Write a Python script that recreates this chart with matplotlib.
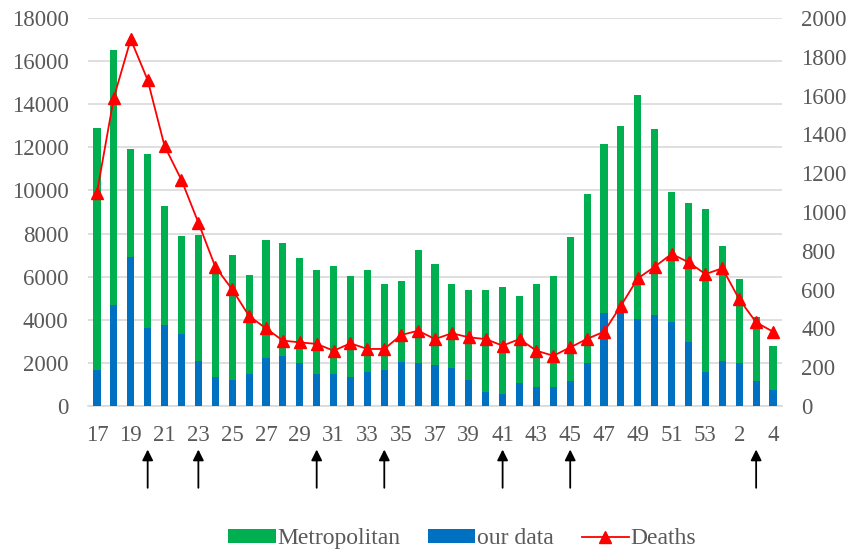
import matplotlib
matplotlib.use("Agg")
import matplotlib.pyplot as plt
import numpy as np

weeks = [17, 18, 19, 20, 21, 22, 23, 24, 25, 26, 27, 28, 29, 30, 31, 32, 33, 34, 35, 36,
         37, 38, 39, 40, 41, 42, 43, 44, 45, 46, 47, 48, 49, 50, 51, 52, 53, 1, 2, 3, 4]
metropolitan = [12900, 16500, 11900, 11700, 9300, 7900, 7950, 6300, 7000, 6100, 7700, 7550,
                6850, 6300, 6500, 6050, 6300, 5650, 5800, 7250, 6600, 5650, 5400, 5400, 5500,
                5100, 5650, 6050, 7850, 9850, 12150, 13000, 14450, 12850, 9950, 9400, 9150,
                7400, 5900, 4150, 2800]
our_data = [1670, 4700, 6900, 3600, 3750, 3350, 2100, 1350, 1200, 1500, 2250, 2300,
            2000, 1500, 1500, 1360, 1600, 1670, 2050, 2000, 1900, 1750, 1200, 650, 550,
            1050, 900, 900, 1150, 2000, 4300, 4400, 4050, 4200, 3900, 2950, 1600,
            2100, 2000, 1150, 750]
deaths = [1100, 1590, 1890, 1680, 1340, 1165, 945, 718, 601, 464, 400, 337,
          328, 320, 285, 323, 294, 294, 366, 388, 345, 375, 354, 345, 311,
          345, 285, 259, 302, 346, 383, 517, 658, 718, 784, 741, 680,
          710, 550, 431, 383]
arrow_idx = [3, 6, 13, 17, 24, 28, 39]  # weeks 20, 23, 30, 34, 41, 45, 3

plt.rcParams['font.family'] = ['Liberation Serif', 'DejaVu Serif']
txt = '#595959'
fs = 16.5

fig = plt.figure(figsize=(8.51, 5.52), dpi=100)
ax = fig.add_axes([88/851, 146/552, 694/851, 388/552])
x = np.arange(len(weeks))

ax.bar(x, metropolitan, width=0.42, color='#00b050', label='Metropolitan', zorder=2)
ax.bar(x, our_data, width=0.42, color='#0070c0', label='our data', zorder=3)

ax.set_ylim(0, 18000)
ax.set_yticks(np.arange(0, 18001, 2000))
ax.set_xlim(-0.53, 40.53)
ax.yaxis.grid(True, color='#d9d9d9', lw=1.2, zorder=0)
ax.set_axisbelow(True)
for s in ['top', 'left', 'right']:
    ax.spines[s].set_visible(False)
ax.spines['bottom'].set_color('#d9d9d9')
ax.spines['bottom'].set_linewidth(1.2)
ax.tick_params(axis='y', length=0, labelsize=fs, labelcolor=txt, pad=14)
ax.set_xticks(x[::2])
ax.set_xticklabels([str(w) for w in weeks[::2]])
ax.tick_params(axis='x', length=0, labelsize=fs, labelcolor=txt, pad=14)

ax2 = ax.twinx()
ax2.plot(x, deaths, color='red', marker='^', markersize=9, lw=1.3, label='Deaths', zorder=5)
ax2.set_ylim(0, 2000)
ax2.set_yticks(np.arange(0, 2001, 200))
for s in ['top', 'left', 'right', 'bottom']:
    ax2.spines[s].set_visible(False)
ax2.tick_params(axis='y', length=0, labelsize=fs, labelcolor=txt, pad=14)

for i in arrow_idx:
    ax.annotate('', xy=(i, -0.105), xytext=(i, -0.218),
                xycoords=('data', 'axes fraction'), textcoords=('data', 'axes fraction'),
                arrowprops=dict(arrowstyle='-|>', color='black', lw=1.3, mutation_scale=16),
                annotation_clip=False)

h1, l1 = ax.get_legend_handles_labels()
h2, l2 = ax2.get_legend_handles_labels()
leg = fig.legend(h1 + h2, l1 + l2, loc='center', bbox_to_anchor=(0.543, 0.024), ncol=3,
                 frameon=False, fontsize=17, handlelength=2.0, handleheight=0.55,
                 handletextpad=0.05, columnspacing=1.2)
for t in leg.get_texts():
    t.set_color(txt)

fig.savefig('out.png', dpi=100)
